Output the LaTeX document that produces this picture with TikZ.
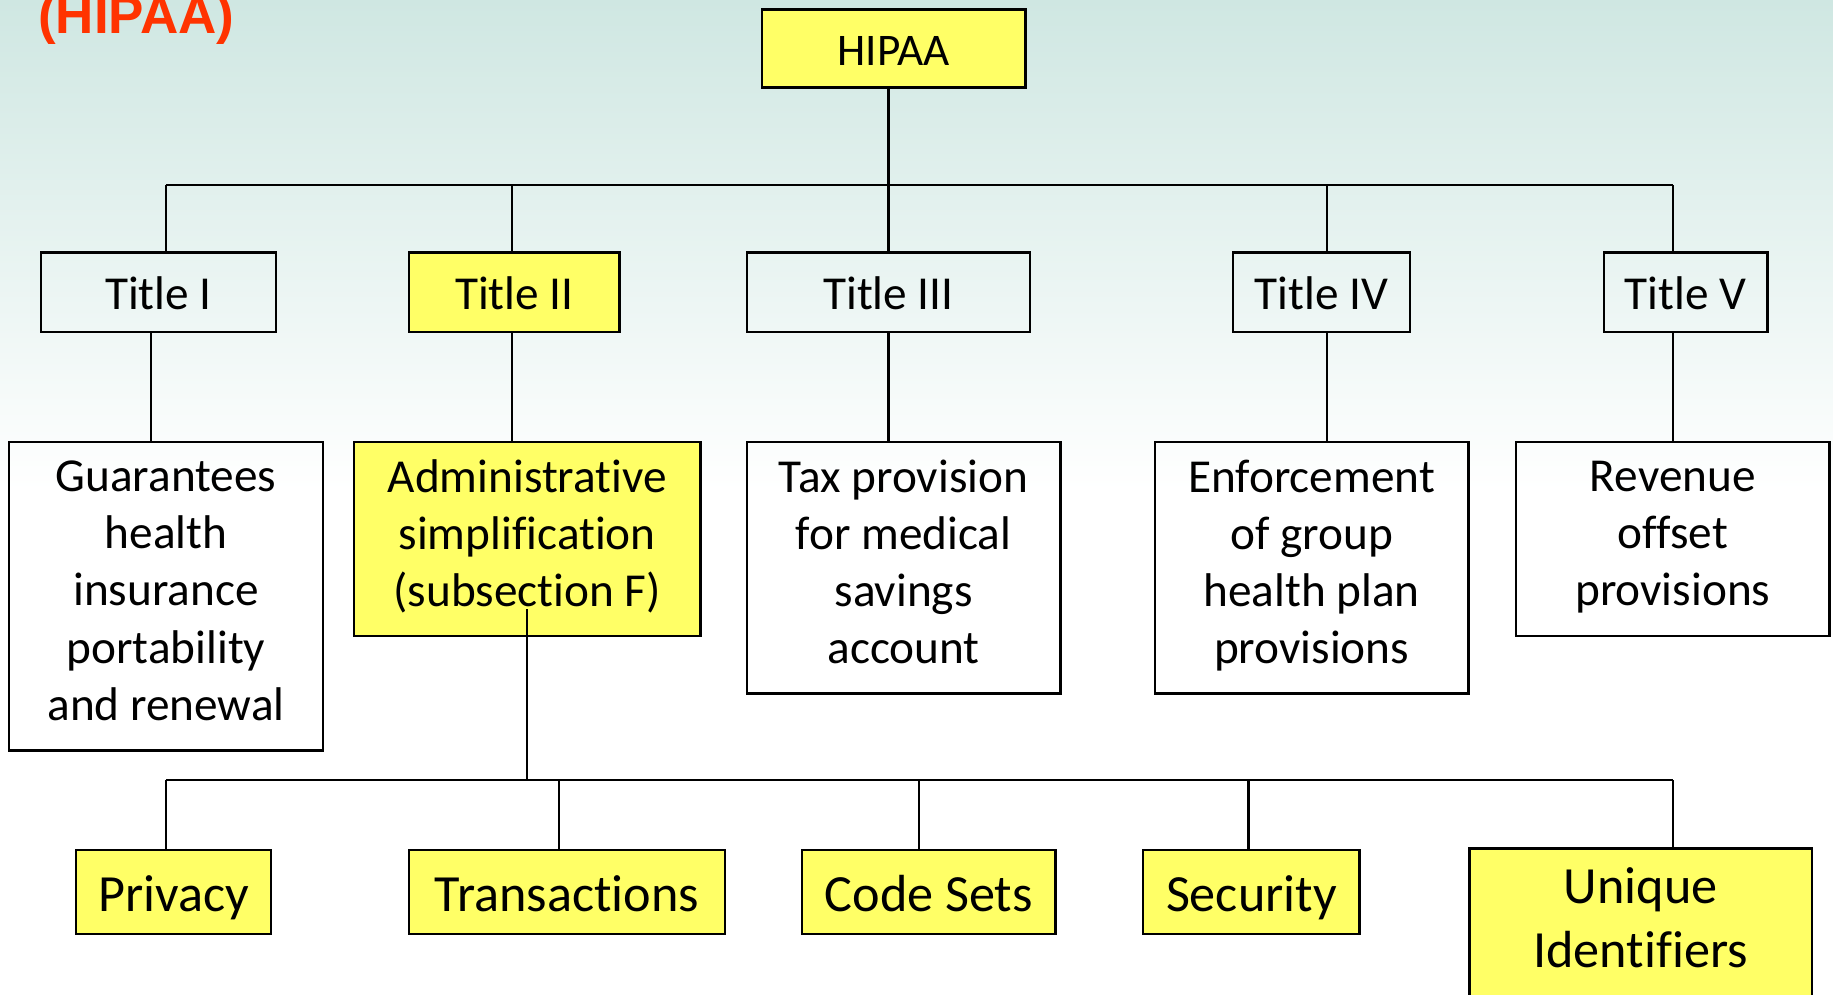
\documentclass[tikz,border=0pt]{standalone}
\usepackage{fontspec}
\setmainfont{Carlito}[Ligatures=NoCommon]
\newfontfamily\arialfont{Liberation Sans}
\usepackage{tikz}
\definecolor{boxyellow}{HTML}{FFFF66}
\definecolor{slidetop}{HTML}{CFE7E2}
\definecolor{headred}{HTML}{FF3300}
\newcommand\boxstrut{\rule[-.235em]{0pt}{1.215em}}
\tikzset{
    box/.style={draw, line width=.6pt, inner sep=0pt, align=center, font=\fontsize{11.5}{13.9}\selectfont,
        execute at begin node=\boxstrut, execute at end node=\boxstrut},
    ybox/.style={box, fill=boxyellow},
    leaf/.style={ybox, font=\fontsize{12.7}{15.6}\selectfont},
    wire/.style={line width=.55pt}
}

\begin{document}
\begin{tikzpicture}[x=.01cm, y=-.01cm]
    \useasboundingbox(0, 0)rectangle(1568, 851);
    \shade[top color=slidetop, bottom color=white](0, 0)rectangle(1568, 420);
    \node[anchor=base west, inner sep=0pt, text=headred, font=\arialfont\bfseries\fontsize{12.9}{15}\selectfont](head)at(32, 29){(HIPAA)};

    % top of the tree
    \node[ybox, minimum width=2.25cm, minimum height=.67cm, font=\fontsize{11}{13}\selectfont](hipaa)at(764.5, 41.5){HIPAA};
    \coordinate(bus1)at(760, 158);

    % the five titles
    \node[box, minimum width=2.01cm, minimum height=.68cm](t1)at(135.5, 250){Title I};
    \node[ybox, minimum width=1.80cm, minimum height=.68cm](t2)at(440, 250){Title II};
    \node[box, minimum width=2.42cm, minimum height=.68cm](t3)at(760, 250){Title III};
    \node[box, minimum width=1.51cm, minimum height=.68cm](t4)at(1130.5, 250){Title IV};
    \node[box, minimum width=1.40cm, minimum height=.68cm](t5)at(1442, 250){Title V};

    % what each title covers
    \node[box, minimum width=2.68cm, minimum height=2.64cm](gua)at(142, 510){Guarantees\\health\\insurance\\portability\\and renewal};
    \node[ybox, minimum width=2.96cm, minimum height=1.66cm](adm)at(451, 461){Administrative\\simplification\\(subsection F)};
    \node[box, minimum width=2.68cm, minimum height=2.15cm](tax)at(773, 485.5){Tax provision\\for medical\\savings\\account};
    \node[box, minimum width=2.68cm, minimum height=2.15cm](enf)at(1122, 485.5){Enforcement\\of group\\health plan\\provisions};
    \node[box, minimum width=2.68cm, minimum height=1.66cm](rev)at(1431, 461){Revenue\\offset\\provisions};
    \coordinate(bus2)at(451, 667);

    % parts of subsection F
    \node[leaf, minimum width=1.67cm, minimum height=.72cm](pri)at(148.5, 763){Privacy};
    \node[leaf, minimum width=2.70cm, minimum height=.72cm](tra)at(485, 763){Transactions};
    \node[leaf, minimum width=2.17cm, minimum height=.72cm](cod)at(794.5, 763){Code Sets};
    \node[leaf, minimum width=1.85cm, minimum height=.72cm](sec)at(1070.5, 763){Security};
    \node[leaf, minimum width=2.93cm, minimum height=1.29cm](uni)at(1403.5, 790.5){Unique\\Identifiers};

    % connectors
    \draw[wire](hipaa.south -| t3.north)--(t3.north);
    \draw[wire](bus1 -| gua.north)--(bus1 -| rev.north);
    \draw[wire](t1.north -| gua.north)--(bus1 -| gua.north);
    \draw[wire]([xshift=-.02cm]t2.north)--([xshift=-.02cm]t2.north |- bus1);
    \draw[wire]([xshift=.045cm]t4.north)--([xshift=.045cm]t4.north |- bus1);
    \draw[wire](t5.north -| rev.north)--(bus1 -| rev.north);

    \draw[wire]([xshift=-.065cm]t1.south)--([xshift=-.065cm]t1.south |- gua.north);
    \draw[wire]([xshift=-.02cm]t2.south)--([xshift=-.02cm]t2.south |- adm.north);
    \draw[wire](t3.south)--(t3.south |- tax.north);
    \draw[wire]([xshift=.045cm]t4.south)--([xshift=.045cm]t4.south |- enf.north);
    \draw[wire](t5.south -| rev.north)--(rev.north);

    \draw[wire]([yshift=.24cm]adm.south)--(bus2);
    \draw[wire](bus2 -| gua.south)--(bus2 -| rev.south);
    \draw[wire](bus2 -| gua.south)--(pri.north -| gua.south);
    \draw[wire]([xshift=-.07cm]tra.north)--([xshift=-.07cm]tra.north |- bus2);
    \draw[wire]([xshift=-.085cm]cod.north)--([xshift=-.085cm]cod.north |- bus2);
    \draw[wire]([xshift=-.025cm]sec.north)--([xshift=-.025cm]sec.north |- bus2);
    \draw[wire](uni.north -| rev.south)--(bus2 -| rev.south);
\end{tikzpicture}
\end{document}
